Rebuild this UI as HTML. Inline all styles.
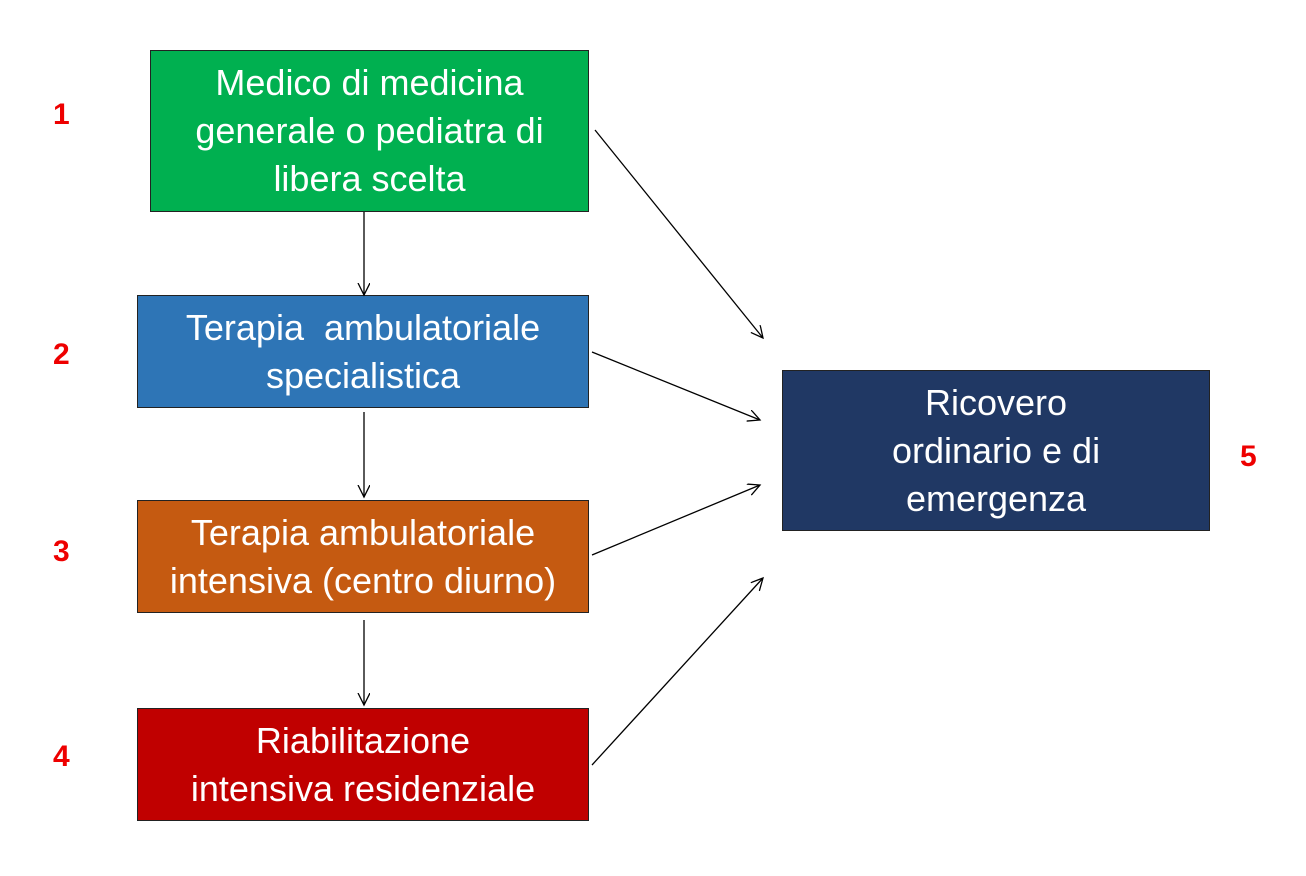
<!DOCTYPE html>
<html><head><meta charset="utf-8"><style>
body{margin:0;width:1306px;height:876px;background:#fff;position:relative;overflow:hidden;font-family:"Liberation Sans",sans-serif}
.b{position:absolute;box-sizing:border-box;border:1px solid #222;color:#fff;display:flex;align-items:center;justify-content:center;text-align:center;font-size:36px;line-height:48px}
.n{position:absolute;color:#e00;font-weight:bold;font-size:30px}
</style></head><body>
<div class="b" style="left:150px;top:50px;width:439px;height:162px;background:#00b050">Medico di medicina<br>generale o pediatra di<br>libera scelta</div>
<div class="b" style="left:137px;top:295px;width:452px;height:113px;background:#2e75b6">Terapia&nbsp; ambulatoriale<br>specialistica</div>
<div class="b" style="left:137px;top:500px;width:452px;height:113px;background:#c55a11">Terapia ambulatoriale<br>intensiva (centro diurno)</div>
<div class="b" style="left:137px;top:708px;width:452px;height:113px;background:#c00000">Riabilitazione<br>intensiva residenziale</div>
<div class="b" style="left:782px;top:370px;width:428px;height:161px;background:#203864">Ricovero<br>ordinario e di<br>emergenza</div>
<div class="n" style="left:53px;top:98px">1</div>
<div class="n" style="left:53px;top:338px">2</div>
<div class="n" style="left:53px;top:535px">3</div>
<div class="n" style="left:53px;top:740px">4</div>
<div class="n" style="left:1240px;top:440px">5</div>
<svg width="1306" height="876" style="position:absolute;left:0;top:0" fill="none" stroke="#000" stroke-width="1.3">
<defs><marker id="a" markerWidth="14" markerHeight="14" refX="12" refY="6" orient="auto" markerUnits="userSpaceOnUse"><path d="M0,0 L12,6 L0,12" fill="none" stroke="#000" stroke-width="1.3"/></marker></defs>
<line x1="364" y1="212" x2="364" y2="295" marker-end="url(#a)"/>
<line x1="364" y1="412" x2="364" y2="497" marker-end="url(#a)"/>
<line x1="364" y1="620" x2="364" y2="705" marker-end="url(#a)"/>
<line x1="595" y1="130" x2="763" y2="338" marker-end="url(#a)"/>
<line x1="592" y1="352" x2="760" y2="420" marker-end="url(#a)"/>
<line x1="592" y1="555" x2="760" y2="485" marker-end="url(#a)"/>
<line x1="592" y1="765" x2="763" y2="578" marker-end="url(#a)"/>
</svg>
</body></html>
